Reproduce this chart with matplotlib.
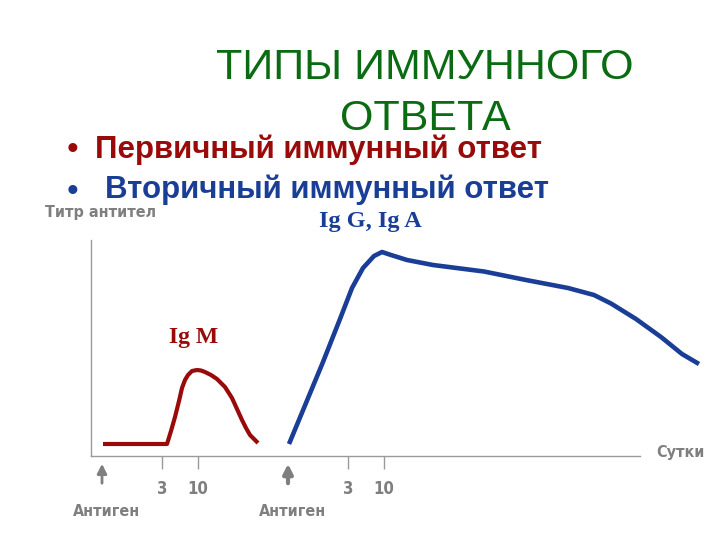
import matplotlib.pyplot as plt

plt.rcParams['font.family'] = ['Liberation Sans', 'DejaVu Sans']

# primary response (Ig M), x in arbitrary day units, y in titre units
prim_x = [12, 76, 80, 84, 88, 91, 94, 97, 101, 106, 110, 114, 120, 126, 134, 141, 146, 151, 155, 159, 163, 167]
prim_y = [12, 12, 25, 39, 55, 68, 76, 81, 85, 86, 85.5, 84, 81, 77, 69, 58, 47, 36, 28, 21, 17, 13]

# secondary response (Ig G, Ig A)
sec_x = [198, 215, 232, 249, 261, 272, 283, 291, 300, 316, 342, 393, 435, 477, 503, 520, 545, 570, 591, 608]
sec_y = [12, 53, 94, 137, 168, 188, 200, 204, 201, 196, 191, 184.5, 176, 168, 161, 152.5, 137, 119, 102, 92]

tick_pos = [71, 107, 257, 293]
tick_lab = ['3', '10', '3', '10']
antigen_x = [11, 197]

gray = '#7f7f7f'
red = '#990b0b'
blue = '#1a3d96'
green = '#0a6b12'
narrow = dict(family=['DejaVu Sans'], fontstretch='condensed', fontweight='bold', color=gray)

fig = plt.figure(figsize=(7.2, 5.4), dpi=100)
ax = fig.add_axes([91 / 720, 84 / 540, 614 / 720, 216 / 540])
ax.set_xlim(0, 614)
ax.set_ylim(0, 216)

ax.plot(prim_x, prim_y, color=red, linewidth=3, solid_capstyle='butt', clip_on=False)
ax.plot(sec_x, sec_y, color=blue, linewidth=3.3, solid_capstyle='butt', clip_on=False)

for s in ['top', 'right']:
    ax.spines[s].set_visible(False)
ax.spines['bottom'].set_bounds(0, 549)
for s in ['left', 'bottom']:
    ax.spines[s].set_color('#9a9a9a')
    ax.spines[s].set_linewidth(1)

ax.set_yticks([])
ax.set_xticks(tick_pos)
ax.set_xticklabels(tick_lab, fontsize=12, **narrow)
ax.tick_params(axis='x', length=9, width=1, color='#9a9a9a', pad=8)

for i, ax_x in enumerate(antigen_x):
    ax.annotate('', xy=(ax_x, -5), xytext=(ax_x, -30), annotation_clip=False,
                arrowprops=dict(arrowstyle='-|>', color=gray, lw=2 + i, mutation_scale=14))
    ax.text(ax_x + 5, -56, 'Антиген', fontsize=11.5, ha='center', va='center', **narrow)

ax.text(589, 4, 'Сутки', fontsize=11.5, ha='center', va='center', clip_on=False, **narrow)
ax.text(103, 119, 'Ig M', family='Liberation Serif', fontweight='bold', fontsize=17,
        color=red, ha='center', va='center')
ax.text(279, 234, 'Ig G, Ig A', family='Liberation Serif', fontweight='bold', fontsize=17.5,
        color=blue, ha='center', va='center', clip_on=False)

fig.text(45 / 720, 1 - 212 / 540, 'Титр антител', fontsize=11.5, ha='left', va='center', **narrow)

fig.text(425 / 720, 1 - 68 / 540, 'ТИПЫ ИММУННОГО', fontsize=31, color=green,
         ha='center', va='center')
fig.text(425 / 720, 1 - 119 / 540, 'ОТВЕТА', fontsize=31, color=green,
         ha='center', va='center')
fig.text(73 / 720, 1 - 151 / 540, '•', fontsize=24, color=red, ha='center', va='center')
fig.text(95 / 720, 1 - 150 / 540, 'Первичный иммунный ответ', fontsize=22.5,
         fontweight='bold', color=red, ha='left', va='center')
fig.text(73 / 720, 1 - 192 / 540, '•', fontsize=24, color=blue, ha='center', va='center')
fig.text(105 / 720, 1 - 190 / 540, 'Вторичный иммунный ответ', fontsize=22.5,
         fontweight='bold', color=blue, ha='left', va='center')

fig.savefig('out.png', dpi=100)
